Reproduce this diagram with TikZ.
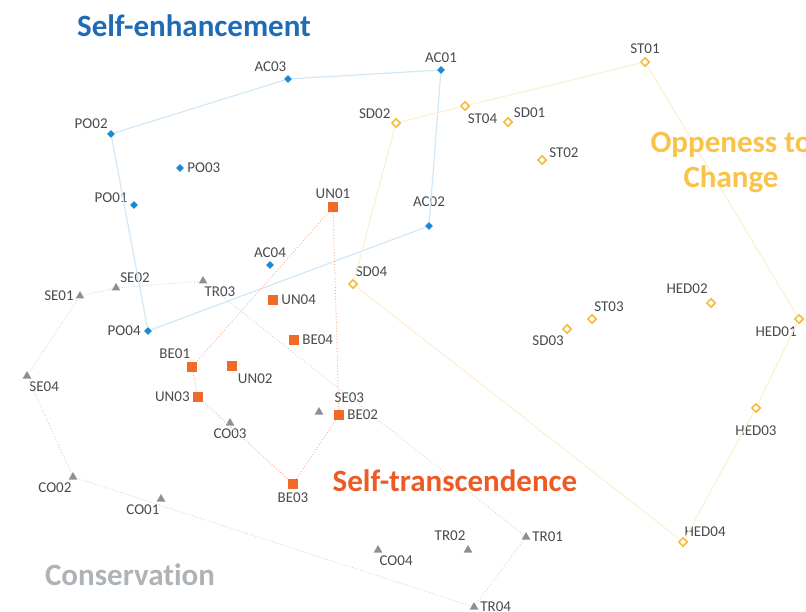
\documentclass[tikz,border=0pt]{standalone}
\usepackage{fontspec}
\setmainfont{Carlito}[Ligatures=NoCommon]
\usepackage{tikz}
\usepackage{xcolor}
\usetikzlibrary{shapes, positioning}

\definecolor{enhblue}{HTML}{1A8AD4}
\definecolor{enhtitle}{HTML}{1F6CB6}
\definecolor{traorange}{HTML}{F06A28}
\definecolor{tratitle}{HTML}{EE5A24}
\definecolor{congray}{HTML}{8C9096}
\definecolor{contitle}{HTML}{AEB3B8}
\definecolor{opnyellow}{HTML}{F7B733}
\definecolor{opntitle}{HTML}{F9C349}
\definecolor{lblgray}{HTML}{474A4F}

\tikzset{
    enh/.style={diamond, fill=enhblue, inner sep=0pt, minimum size=8pt},
    tra/.style={rectangle, fill=traorange, inner sep=0pt, minimum size=10pt},
    con/.style={regular polygon, regular polygon sides=3, fill=congray, inner sep=0pt, minimum size=10pt},
    opn/.style={diamond, draw=opnyellow, line width=1.5pt, fill=white, inner sep=0pt, minimum size=9pt},
    every label/.style={text=lblgray, font=\fontsize{15}{15}\selectfont, inner sep=1pt},
    label distance=2pt,
    title/.style={font=\bfseries\fontsize{31}{35}\selectfont, align=center},
    enhline/.style={draw=enhblue!20, line width=1.2pt},
    traline/.style={draw=traorange!55, line width=0.9pt, dotted},
    conline/.style={draw=congray!40, line width=0.9pt, dotted},
    opnline/.style={draw=opnyellow!22, line width=1.1pt}
}

\begin{document}
\begin{tikzpicture}[x=1pt, y=-1pt]
        \useasboundingbox (0, 0) rectangle (806, 612);

        % self-enhancement
        \node[enh, label={95:AC03}] at (288, 79) (ac03) {};
        \node[enh, label={90:AC01}] at (441, 70) (ac01) {};
        \node[enh, label={115:PO02}] at (111, 134) (po02) {};
        \node[enh, label={0:PO03}] at (180, 168) (po03) {};
        \node[enh, label={165:PO01}] at (134, 205) (po01) {};
        \node[enh, label={90:AC04}] at (270, 265) (ac04) {};
        \node[enh, label={[label distance=14pt]90:AC02}] at (429, 226) (ac02) {};
        \node[enh, label={180:PO04}] at (148, 331) (po04) {};

        % self-transcendence
        \node[tra, label={90:UN01}] at (333, 207) (un01) {};
        \node[tra, label={0:UN04}] at (273, 300) (un04) {};
        \node[tra, label={0:BE04}] at (294, 340) (be04) {};
        \node[tra, label={95:BE01}] at (192, 367) (be01) {};
        \node[tra, label={-55:UN02}] at (232, 366) (un02) {};
        \node[tra, label={180:UN03}] at (198, 397) (un03) {};
        \node[tra, label={0:BE02}] at (339, 415) (be02) {};
        \node[tra, label={-90:BE03}] at (293, 484) (be03) {};

        % conservation
        \node[con, label={50:SE02}] at (116, 288) (se02) {};
        \node[con, label={180:SE01}] at (80, 296) (se01) {};
        \node[con, label={-85:TR03}] at (203, 281) (tr03) {};
        \node[con, label={-75:SE04}] at (27, 376) (se04) {};
        \node[con, label={[label distance=14pt]30:SE03}] at (319, 412) (se03) {};
        \node[con, label={-90:CO03}] at (230, 423) (co03) {};
        \node[con, label={-95:CO02}] at (73, 477) (co02) {};
        \node[con, label={-95:CO01}] at (161, 499) (co01) {};
        \node[con, label={-85:CO04}] at (378, 550) (co04) {};
        \node[con, label={[label distance=4pt]100:TR02}] at (468, 550) (tr02) {};
        \node[con, label={0:TR01}] at (526, 537) (tr01) {};
        \node[con, label={0:TR04}] at (474, 607) (tr04) {};

        % openness to change
        \node[opn, label={90:ST01}] at (645, 62) (st01) {};
        \node[opn, label={140:SD02}] at (396, 123) (sd02) {};
        \node[opn, label={-75:ST04}] at (465, 106) (st04) {};
        \node[opn, label={35:SD01}] at (508, 122) (sd01) {};
        \node[opn, label={15:ST02}] at (542, 160) (st02) {};
        \node[opn, label={75:SD04}] at (353, 284) (sd04) {};
        \node[opn, label={80:ST03}] at (592, 319) (st03) {};
        \node[opn, label={-110:SD03}] at (567, 329) (sd03) {};
        \node[opn, label={[label distance=4pt]105:HED02}] at (711, 303) (hed02) {};
        \node[opn, label={-100:HED01}] at (799, 319) (hed01) {};
        \node[opn, label={[label distance=11pt]-90:HED03}] at (756, 408) (hed03) {};
        \node[opn, label={[label distance=-1pt]85:HED04}] at (683, 542) (hed04) {};

        \draw[enhline] (po02) -- (ac03) -- (ac01) -- (ac02) -- (po04) -- (po02);
        \draw[traline] (un01) -- (be01) -- (un03) -- (be03) -- (be02) -- (un01);
        \draw[conline] (se01) -- (se02) -- (tr03) -- (tr01) -- (tr04) -- (co02) -- (se04) -- (se01);
        \draw[opnline] (sd02) -- (st04) -- (st01) -- (hed01) -- (hed03) -- (hed04) -- (sd04) -- (sd02);

        \node[title, text=enhtitle] at (194, 26) (enhtitle) {Self-enhancement};
        \node[title, text=opntitle] at (731, 162) (opntitle) {Oppeness to\\Change};
        \node[title, text=tratitle] at (455, 481) (tratitle) {Self-transcendence};
        \node[title, text=contitle] at (130, 575) (contitle) {Conservation};
    \end{tikzpicture}
\end{document}
